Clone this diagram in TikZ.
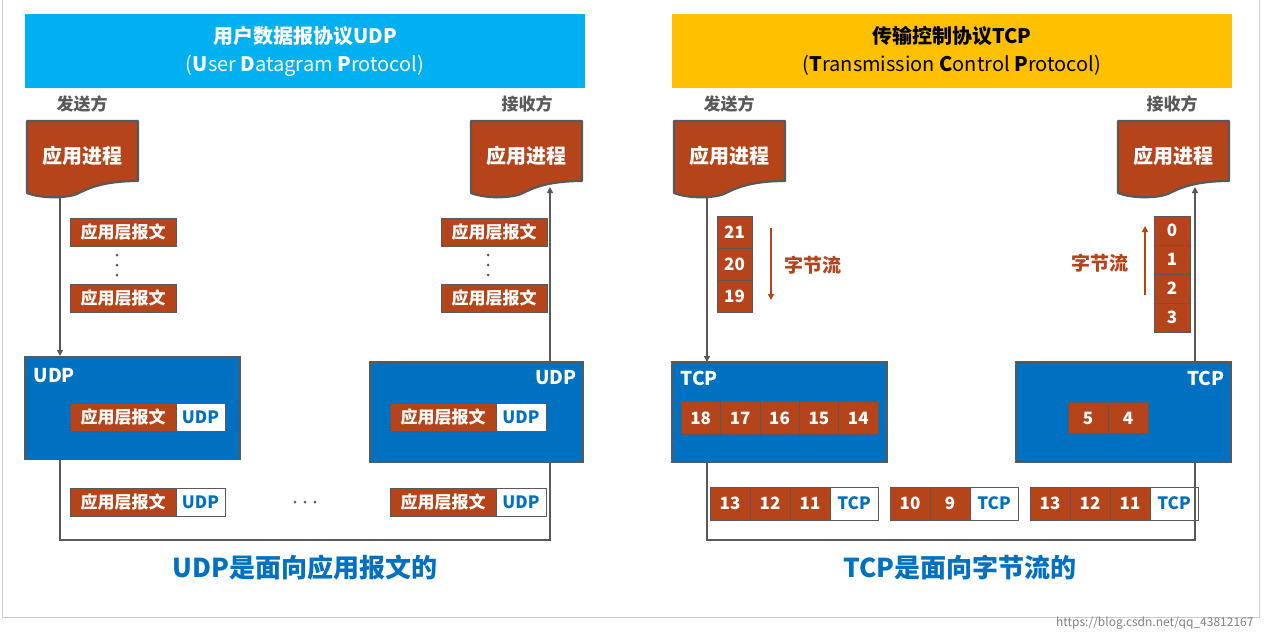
\documentclass[tikz,border=0pt]{standalone}
\usepackage{fontspec}
\setmainfont{Noto Sans CJK SC}
\usetikzlibrary{arrows.meta}
\definecolor{brn}{HTML}{B5441A}
\definecolor{blu}{HTML}{0070C0}
\definecolor{cyn}{HTML}{00B0F0}
\definecolor{ylw}{HTML}{FFC000}
\definecolor{gry}{HTML}{595959}
\begin{document}
\begin{tikzpicture}[x=1pt,y=-1pt,
  cell/.style={draw=gry,fill=brn,text=white,font=\bfseries\fontsize{17}{17}\selectfont,inner sep=0pt,line width=0.6pt},
  hcell/.style={draw=gry,fill=white,text=blu,font=\bfseries\fontsize{17}{17}\selectfont,inner sep=0pt,line width=0.6pt},
  layer/.style={draw=gry,fill=blu,line width=1.2pt,inner sep=0pt},
  lbl/.style={text=white,font=\bfseries\fontsize{19}{19}\selectfont},
  side/.style={text=gry,font=\bfseries\fontsize{17}{17}\selectfont},
  wire/.style={draw=gry,line width=1.6pt},
  arr/.style={wire,-{Triangle[length=6pt,width=6pt]}},
  captxt/.style={text=blu,font=\bfseries\fontsize{26}{26}\selectfont}]
\useasboundingbox (0,0) rectangle (1267,640);
\draw[gray!40,line width=1pt] (2,0) -- (2,617) -- (1259,617) -- (1259,0);
% headers
\node[fill=cyn,minimum width=560,minimum height=74,inner sep=0pt,text=white,align=center,font=\bfseries\fontsize{20}{28}\selectfont] (hu) at (305,51) {用户数据报协议UDP\\\mdseries(\textbf{U}ser \textbf{D}atagram \textbf{P}rotocol)};
\node[fill=ylw,minimum width=560,minimum height=74,inner sep=0pt,text=black,align=center,font=\bfseries\fontsize{20}{28}\selectfont] (ht) at (952,51) {传输控制协议TCP\\\mdseries(\textbf{T}ransmission \textbf{C}ontrol \textbf{P}rotocol)};
% doc shapes
\newcommand{\mydoc}[2]{%
  \fill[brn,draw=gry,line width=2.2pt,line join=round] (#2,121) -- (#2+111,121) -- (#2+111,181)
    .. controls (#2+75,181) and (#2+60,189) .. (#2+50,194)
    .. controls (#2+40,198) and (#2+15,199) .. (#2,193) -- cycle;
  \node[lbl,font=\bfseries\fontsize{20}{20}\selectfont] (#1) at (#2+55,156) {应用进程};}
\mydoc{ds1}{27}
\mydoc{dr1}{471}
\mydoc{ds2}{674}
\mydoc{dr2}{1118}
\node[side] (s1) at (82,104) {发送方};
\node[side] (r1) at (527,104) {接收方};
\node[side] (s2) at (729,104) {发送方};
\node[side] (r2) at (1172,104) {接收方};
% UDP boxes
\node[layer,minimum width=215,minimum height=103] (ul) at (132.5,408) {};
\node[lbl,anchor=west] (ull) at (30,376) {UDP};
\node[layer,minimum width=213,minimum height=100] (ur) at (476.5,412) {};
\node[lbl,anchor=east] (url) at (580,378) {UDP};
\node[cell,minimum width=106,minimum height=28] (ua) at (123,417) {应用层报文};
\node[hcell,minimum width=49,minimum height=28] (uh) at (200.5,417) {UDP};
\node[cell,minimum width=106,minimum height=28] (va) at (443,417) {应用层报文};
\node[hcell,minimum width=50,minimum height=28] (vh) at (521,417) {UDP};
% messages
\node[cell,minimum width=106,minimum height=28] (m1) at (123,232) {应用层报文};
\node[cell,minimum width=106,minimum height=28] (m2) at (123,298) {应用层报文};
\node[cell,minimum width=106,minimum height=28] (m3) at (494,232) {应用层报文};
\node[cell,minimum width=106,minimum height=28] (m4) at (494,298) {应用层报文};
\foreach \x in {117,488} \foreach \y in {255,265,275} \fill[gry] (\x,\y) circle (1.5);
\node[cell,minimum width=106,minimum height=28] (b1) at (123,502) {应用层报文};
\node[hcell,minimum width=49,minimum height=28] (b1h) at (200.5,502) {UDP};
\node[cell,minimum width=106,minimum height=28] (b2) at (443,502) {应用层报文};
\node[hcell,minimum width=50,minimum height=28] (b2h) at (521,502) {UDP};
\foreach \x in {295,305,315} \fill[gry] (\x,502) circle (1.5);
% UDP wires
\draw[arr] (60,197) -- (60,356);
\draw[arr] (550,362) -- (550,187);
\draw[wire] (60,460) -- (60,540) -- (550,540) -- (550,462);
\node[captxt] (c1) at (305,568) {UDP是面向应用报文的};
% TCP boxes
\node[layer,minimum width=215,minimum height=100] (tl) at (779.5,412) {};
\node[lbl,anchor=west] (tll) at (677,378) {TCP};
\node[layer,minimum width=215,minimum height=100] (tr) at (1123.5,412) {};
\node[lbl,anchor=east] (trl) at (1228,378) {TCP};
\foreach \n [count=\i from 0] in {18,17,16,15,14}
  \node[cell,minimum width=39.4,minimum height=33] (t\n) at (700.7+\i*39.4,418) {\n};
\foreach \n [count=\i from 0] in {5,4}
  \node[cell,minimum width=40,minimum height=31] (t\n) at (1088+\i*40,418) {\n};
% stacks
\foreach \n [count=\i from 0] in {21,20,19}
  \node[cell,minimum width=35,minimum height=32.3] (k\n) at (734.5,232+\i*32.3) {\n};
\foreach \n [count=\i from 0] in {0,1,2,3}
  \node[cell,minimum width=36,minimum height=29] (q\n) at (1172,230.5+\i*29) {\n};
\draw[draw=brn,line width=1.6pt,-{Triangle[length=6pt,width=6pt]}] (771,228) -- (771,300);
\draw[draw=brn,line width=1.6pt,-{Triangle[length=6pt,width=6pt]}] (1145,295) -- (1145,226);
\node[text=brn,font=\bfseries\fontsize{19}{19}\selectfont] (f1) at (813,265) {字节流};
\node[text=brn,font=\bfseries\fontsize{19}{19}\selectfont] (f2) at (1100,263) {字节流};
% segments
\foreach \n [count=\i from 0] in {13,12,11}
  \node[cell,minimum width=40,minimum height=33] (ga\n) at (730+\i*40,503.5) {\n};
\node[hcell,minimum width=48,minimum height=33] (gah) at (854,503.5) {TCP};
\foreach \n [count=\i from 0] in {10,9}
  \node[cell,minimum width=40,minimum height=33] (gb\n) at (910+\i*40,503.5) {\n};
\node[hcell,minimum width=48,minimum height=33] (gbh) at (994,503.5) {TCP};
\foreach \n [count=\i from 0] in {13,12,11}
  \node[cell,minimum width=40,minimum height=33] (gc\n) at (1050+\i*40,503.5) {\n};
\node[hcell,minimum width=48,minimum height=33] (gch) at (1174,503.5) {TCP};
% TCP wires
\draw[arr] (707,197) -- (707,362);
\draw[arr] (1195,362) -- (1195,187);
\draw[wire] (707,462) -- (707,540) -- (1195,540) -- (1195,462);
\node[captxt] (c2) at (960,568) {TCP是面向字节流的};
\node[text=gray,font=\fontsize{12}{12}\selectfont,anchor=east] (wm) at (1257,623) {https://blog.csdn.net/qq\_43812167};
\end{tikzpicture}
\end{document}
